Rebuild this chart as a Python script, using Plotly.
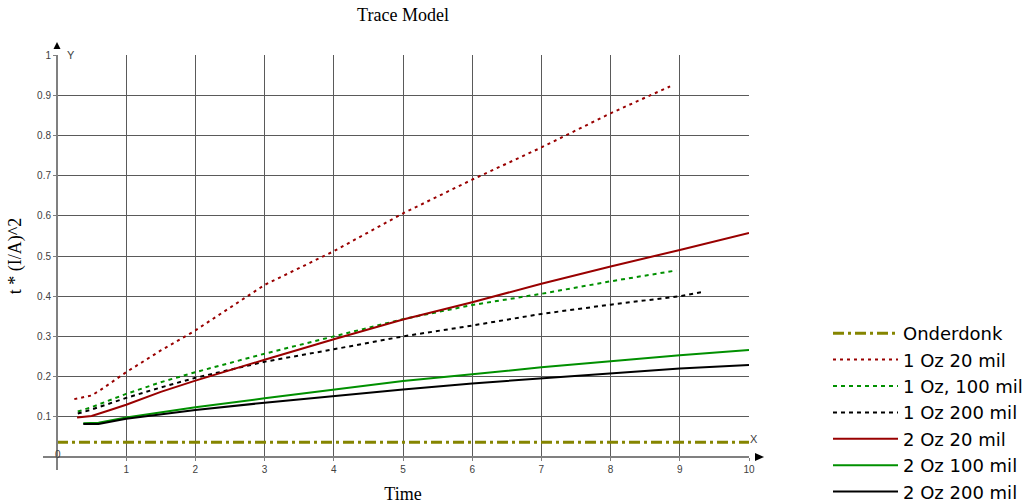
import plotly.graph_objects as go

# ---------------- data ----------------
x_onderdonk = [0, 10]
y_onderdonk = [0.0366, 0.0366]

x_1oz_20 = [0.25, 0.5, 0.63, 0.8, 1, 1.5, 2, 3, 4, 5, 6, 7, 8, 8.86]
y_1oz_20 = [0.144, 0.153, 0.167, 0.188, 0.211, 0.265, 0.315, 0.428, 0.512, 0.606, 0.69, 0.77, 0.855, 0.922]

x_1oz_100 = [0.3, 0.5, 1, 1.5, 2, 3, 4, 5, 6, 7, 8, 8.95]
y_1oz_100 = [0.113, 0.124, 0.157, 0.186, 0.211, 0.257, 0.300, 0.343, 0.378, 0.406, 0.437, 0.464]

x_1oz_200 = [0.3, 0.5, 1, 1.5, 2, 3, 4, 5, 6, 7, 8, 9, 9.34]
y_1oz_200 = [0.108, 0.118, 0.147, 0.173, 0.197, 0.237, 0.268, 0.300, 0.327, 0.356, 0.379, 0.400, 0.411]

x_2oz_20 = [0.29, 0.5, 0.77, 1, 1.5, 2, 3, 4, 5, 6, 7, 8, 9, 10]
y_2oz_20 = [0.098, 0.102, 0.117, 0.130, 0.162, 0.190, 0.242, 0.293, 0.342, 0.385, 0.431, 0.474, 0.515, 0.557]

x_2oz_100 = [0.38, 0.6, 1, 2, 3, 4, 5, 6, 7, 8, 9, 10]
y_2oz_100 = [0.084, 0.085, 0.098, 0.124, 0.146, 0.168, 0.189, 0.206, 0.223, 0.238, 0.253, 0.266]

x_2oz_200 = [0.38, 0.6, 1, 2, 3, 4, 5, 6, 7, 8, 9, 10]
y_2oz_200 = [0.082, 0.082, 0.095, 0.117, 0.135, 0.152, 0.168, 0.183, 0.195, 0.208, 0.220, 0.229]

x_tickvals = [1, 2, 3, 4, 5, 6, 7, 8, 9, 10]
x_ticktext = ["1", "2", "3", "4", "5", "6", "7", "8", "9", "10"]
y_tickvals = [0.1, 0.2, 0.3, 0.4, 0.5, 0.6, 0.7, 0.8, 0.9, 1.0]
y_ticktext = ["0.1", "0.2", "0.3", "0.4", "0.5", "0.6", "0.7", "0.8", "0.9", "1"]

# ---------------- styles ----------------
RED = "#990000"
GREEN = "#009000"
BLACK = "#000000"
OLIVE = "#858500"
GRID = "#5a5a5a"
AXIS = "#808080"
TICKFONT = dict(family="Liberation Sans, Arial, sans-serif", size=10, color="#404040")
SERIF = "Liberation Serif, Times New Roman, serif"

series = [
    ("Onderdonk", x_onderdonk, y_onderdonk, OLIVE, 3, "11px,4px,3px,4px"),
    ("1 Oz 20 mil", x_1oz_20, y_1oz_20, RED, 2, "3px,4px"),
    ("1 Oz, 100 mil", x_1oz_100, y_1oz_100, GREEN, 2, "4px,4px"),
    ("1 Oz 200 mil", x_1oz_200, y_1oz_200, BLACK, 2, "4px,4px"),
    ("2 Oz 20 mil", x_2oz_20, y_2oz_20, RED, 2, "solid"),
    ("2 Oz 100 mil", x_2oz_100, y_2oz_100, GREEN, 2, "solid"),
    ("2 Oz 200 mil", x_2oz_200, y_2oz_200, BLACK, 2, "solid"),
]

fig = go.Figure()
for name, xs, ys, color, width, dash in series:
    fig.add_trace(go.Scatter(x=xs, y=ys, mode="lines", name=name,
                             line=dict(color=color, width=width, dash=dash)))

fig.update_layout(
    width=1029, height=504,
    margin=dict(l=57, r=280, t=55, b=47, autoexpand=False),
    paper_bgcolor="white", plot_bgcolor="white",
    title=dict(text="Trace Model", x=(57 + 749) / 2 / 1029, xanchor="center",
               y=1 - 15 / 504, yanchor="middle",
               font=dict(family=SERIF, size=18, color="#000000")),
    xaxis=dict(range=[0, 10], tickvals=x_tickvals, ticktext=x_ticktext,
               showgrid=True, gridcolor=GRID, gridwidth=1,
               zeroline=False, showline=False, automargin=False,
               ticks="outside", ticklen=3, tickcolor=AXIS, tickfont=TICKFONT,
               title=dict(text="Time", font=dict(family=SERIF, size=18, color="#000000"),
                          standoff=14)),
    yaxis=dict(range=[0, 1], tickvals=y_tickvals, ticktext=y_ticktext,
               showgrid=True, gridcolor=GRID, gridwidth=1,
               zeroline=False, showline=False, automargin=False,
               ticks="outside", ticklen=3, tickcolor=AXIS, tickfont=TICKFONT,
               title=dict(text="t * (I/A)^2", font=dict(family=SERIF, size=18, color="#000000"),
                          standoff=10)),
    legend=dict(x=(828 - 57) / 692, xanchor="left",
                y=(457 - 510) / 402, yanchor="bottom",
                font=dict(family="DejaVu Sans, sans-serif", size=18, color="#000000"),
                itemwidth=65, bgcolor="rgba(0,0,0,0)", tracegroupgap=0),
    showlegend=True,
)

# axis lines with extensions and arrow heads (decoration)
fig.add_shape(type="line", xref="paper", yref="paper", x0=-14 / 692, x1=1.0, y0=0, y1=0,
              line=dict(color=AXIS, width=2))
fig.add_shape(type="line", xref="paper", yref="paper", x0=0, x1=0, y0=-13 / 402, y1=1.0,
              line=dict(color=AXIS, width=2))
fig.add_shape(type="path", xref="paper", yref="paper",
              path=f"M {698/692},{4/402} L {698/692},{-4/402} L {707/692},0 Z",
              fillcolor="black", line=dict(color="black", width=0))
fig.add_shape(type="path", xref="paper", yref="paper",
              path=f"M {-3.5/692},{408/402} L {3.5/692},{408/402} L 0,{415/402} Z",
              fillcolor="black", line=dict(color="black", width=0))

fig.add_annotation(xref="paper", yref="paper", x=(760 - 57) / 692, y=(457 - 447) / 402,
                   text="X", showarrow=False, font=dict(family="Liberation Sans, Arial", size=11, color="#404040"))
fig.add_annotation(xref="paper", yref="paper", x=(65 - 57) / 692, y=(457 - 47) / 402,
                   text="Y", showarrow=False, font=dict(family="Liberation Sans, Arial", size=11, color="#404040"))
fig.add_annotation(xref="paper", yref="paper", x=(53 - 57) / 692, y=(457 - 462) / 402,
                   text="0", showarrow=False, font=TICKFONT)

fig.write_html("out.html")
